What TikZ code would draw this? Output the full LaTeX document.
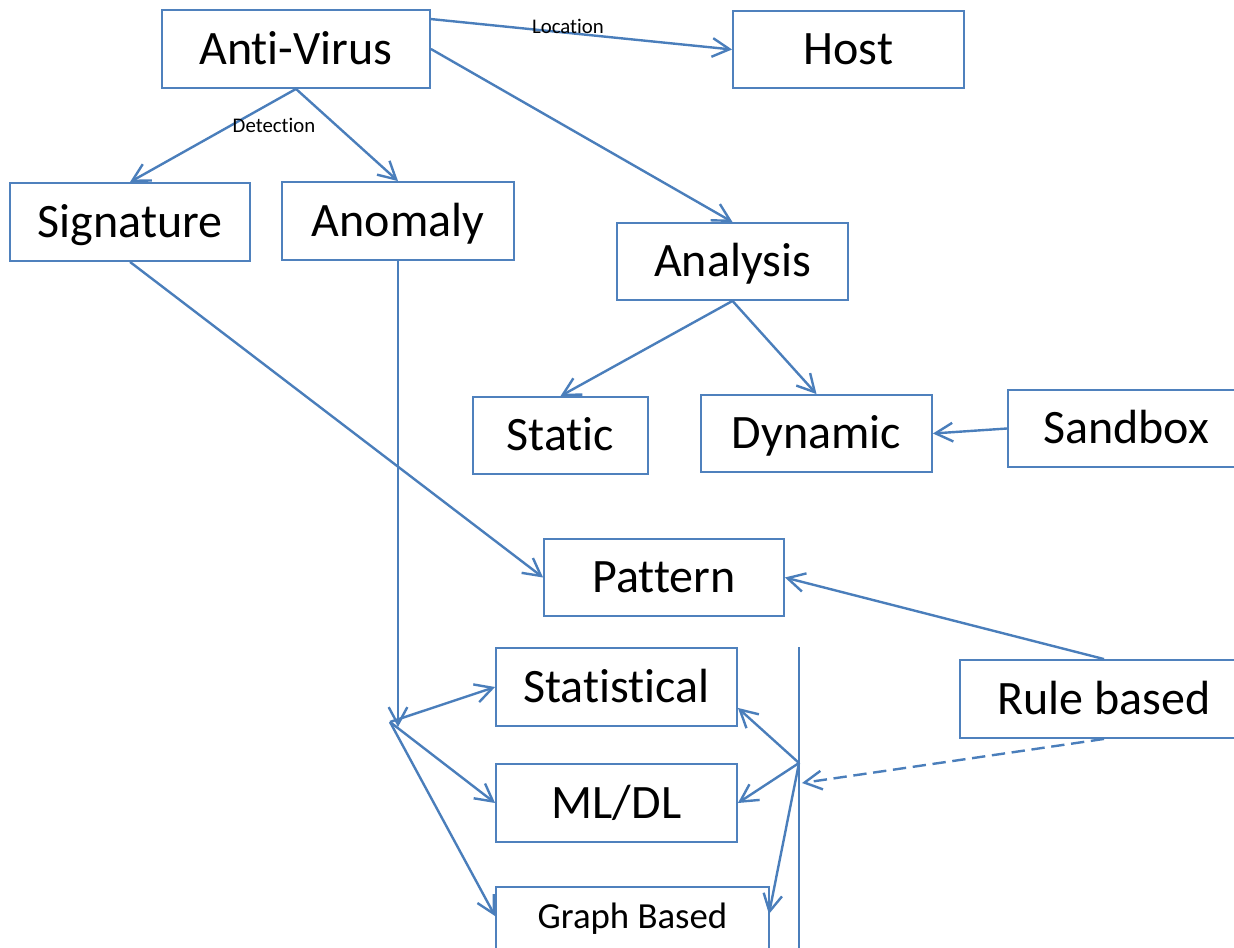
\documentclass[tikz,border=0pt]{standalone}
\usepackage{fontspec}
\setmainfont{Carlito}[Ligatures=NoCommon]
\usetikzlibrary{arrows.meta,calc}
\definecolor{linkblue}{HTML}{4A7EBB}
\definecolor{boxblue}{HTML}{4F81BD}

\begin{document}
\begin{tikzpicture}[x=0.75pt,y=-0.75pt,
  box/.style 2 args={draw=boxblue, line width=1.4pt, rectangle, inner sep=0pt,
    minimum width=#1*0.75pt, minimum height=#2*0.75pt,
    font=\fontsize{36}{43}\selectfont, text height=23.2pt, text depth=0pt},
  link/.style={draw=linkblue, line width=1.8pt, -{Straight Barb[length=13pt,width=14pt]}},
  bar/.style={draw=linkblue, line width=1.6pt},
  lbl/.style={font=\fontsize{15.6}{18}\selectfont, inner sep=0pt},
]
\useasboundingbox (0,0) rectangle (1234,948);
\clip (0,0) rectangle (1234,948);

% boxes
\node[box={268}{78}] (av)    at (296,49)      {Anti-Virus};
\node[box={231}{77}] (host)  at (848.5,49.5)  {Host};
\node[box={240}{78}] (sig)   at (130,222)     {Signature};
\node[box={232}{78}] (anom)  at (398,221)     {Anomaly};
\node[box={231}{77}] (ana)   at (732.5,261.5) {Analysis};
\node[box={175}{77}] (stat)  at (560.5,435.5) {Static};
\node[box={231}{77}] (dyn)   at (816.5,433.5) {Dynamic};
\node[box={236}{77}] (sand)  at (1126,428.5)  {Sandbox};
\node[box={240}{77}] (pat)   at (664,577.5)   {Pattern};
\node[box={288}{78}] (rule)  at (1104,699)    {Rule based};
\node[box={241}{78}] (statl) at (616.5,687)   {Statistical};
\node[box={241}{78}] (ml)    at (616.5,803)   {ML/DL};
\node[box={273}{78}, font=\fontsize{27.6}{33}\selectfont,
      text height=18pt, text depth=15pt] (graph) at (632.5,926) {Graph Based};

% top level links
\draw[link] ($(av.north east)+(0,10)$) -- (host.west)
  node[lbl, pos=0.455, yshift=4.5pt] (loc) {Location};
\draw[link] (av.east) -- (ana.north);
\draw[link] (av.south) -- (sig.north);
\draw[link] (av.south) -- (anom.north);
\node[lbl] (det) at (274,125) {Detection};

% signature and analysis branches
\draw[link] (sig.south) -- (pat.west);
\draw[link] (ana.south) -- (stat.north);
\draw[link] (ana.south) -- (dyn.north);
\draw[link] (sand.west) -- (dyn.east);
\draw[link] (rule.north) -- (pat.east);

% anomaly fan-out
\coordinate (anomEnd) at (398,727);
\coordinate (hubL) at (390,722);
\draw[link] (anom.south) -- (anomEnd);
\draw[link] (hubL) -- (statl.west);
\draw[link] (hubL) -- (ml.west);
\draw[link] (hubL) -- ($(graph.north west)+(0,30)$);

% rule based fan-out
\coordinate (barTop) at (799,647);
\coordinate (barBot) at (799,960);
\coordinate (hubR) at (799,763);
\coordinate (dashEnd) at (802,783);
\draw[bar] (barTop) -- (barBot);
\draw[link, dash pattern=on 10pt off 5pt] (rule.south) -- (dashEnd);
\draw[link] (hubR) -- ($(statl.south east)+(0,-19)$);
\draw[link] (hubR) -- (ml.east);
\draw[link] (hubR) -- ($(graph.north east)+(-1,28)$);
\end{tikzpicture}
\end{document}
